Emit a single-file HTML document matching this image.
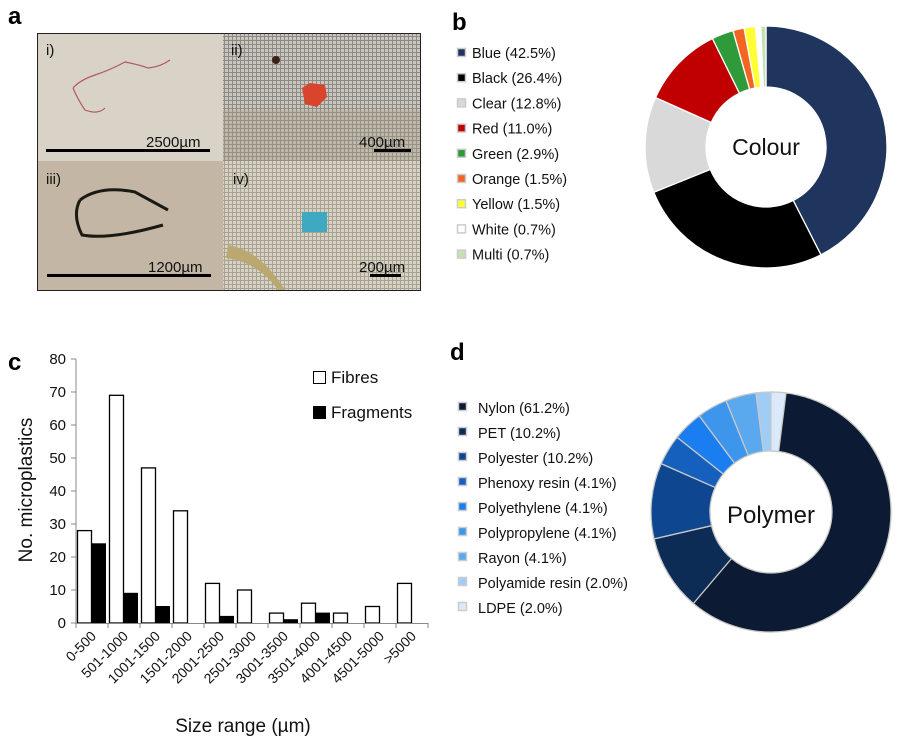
<!DOCTYPE html>
<html><head><meta charset="utf-8"><style>
body{margin:0;background:#fff;width:903px;height:748px;overflow:hidden}
svg text{font-family:"Liberation Sans",sans-serif}
</style></head><body>
<svg id="s" width="903" height="748" xmlns="http://www.w3.org/2000/svg">
<defs>
<pattern id="grid" width="4" height="4" patternUnits="userSpaceOnUse"><rect width="4" height="4" fill="#c9c6c2"/><rect width="1" height="4" fill="#8e8a80"/><rect width="4" height="1" fill="#8e8a80"/></pattern>
<pattern id="grid2" width="4" height="4" patternUnits="userSpaceOnUse"><rect width="4" height="4" fill="#d6d2c6"/><rect width="1" height="4" fill="#a8a290"/><rect width="4" height="1" fill="#a8a290"/></pattern>
</defs>
<g font-weight="bold" font-size="24">
<text x="8" y="24">a</text><text x="452" y="30">b</text><text x="8" y="370">c</text><text x="450" y="360">d</text></g>
<rect x="37" y="33" width="384" height="258" fill="#222"/>
<rect x="38" y="34" width="185" height="127" fill="#d9d2c6"/>
<rect x="223" y="34" width="197" height="127" fill="url(#grid)"/>
<rect x="223" y="110" width="197" height="51" fill="#a89e88" opacity="0.35"/>
<rect x="38" y="161" width="185" height="129" fill="#c4b6a4"/>
<rect x="223" y="161" width="197" height="129" fill="url(#grid2)"/>
<path d="M73 88 Q80 80 95 75 Q110 70 125 62 Q140 65 148 68 Q160 67 170 60" stroke="#b05a60" fill="none" stroke-width="1.2"/>
<path d="M73 88 Q78 100 85 110 Q98 115 105 108" stroke="#b05a60" fill="none" stroke-width="1.2"/>
<path d="M302 88 l8 -5 l15 2 l2 12 l-10 10 l-12 -3z" fill="#d8442c"/>
<circle cx="276" cy="60" r="4" fill="#3a2218"/>
<path d="M80 200 Q100 185 135 192 L168 210 M80 200 Q72 215 82 235 Q110 240 163 225" stroke="#1a1a14" fill="none" stroke-width="3"/>
<rect x="302" y="212" width="25" height="20" fill="#3fa9c2"/>
<path d="M228 245 Q260 250 285 290 L278 290 Q258 262 226 258z" fill="#bba870"/>
<g font-size="15" fill="#111"><text x="46" y="55">i)</text><text x="231" y="55">ii)</text><text x="46" y="184">iii)</text><text x="233" y="184">iv)</text>
<text x="146" y="147">2500µm</text><text x="359" y="147">400µm</text><text x="148" y="272">1200µm</text><text x="359" y="272">200µm</text></g>
<g fill="#000"><rect x="46" y="149" width="164" height="3"/><rect x="374" y="149" width="37" height="3"/><rect x="47" y="274" width="164" height="3"/><rect x="370" y="274" width="31" height="3"/></g>
<g id="bars"></g>
<g stroke="#888" stroke-width="1"><line x1="76" y1="359" x2="76" y2="623"/><line x1="76" y1="623.5" x2="428" y2="623.5"/></g>
<g id="ticks" font-size="15" fill="#111"></g>
<rect x="313.5" y="371.5" width="12" height="12" fill="#fff" stroke="#000"/>
<rect x="313.5" y="406.5" width="12" height="12" fill="#000" stroke="#000"/>
<g font-size="17" fill="#111"><text x="331" y="383">Fibres</text><text x="331" y="418">Fragments</text>
<text transform="translate(32,490) rotate(-90)" text-anchor="middle" font-size="19">No. microplastics</text>
<text x="243" y="732" text-anchor="middle" font-size="19">Size range (µm)</text></g>
<g id="pies"></g>
<g font-size="14.5" fill="#111" id="leg"></g>
<text x="766" y="155" font-size="23" text-anchor="middle" fill="#111">Colour</text>
<text x="771" y="523" font-size="24" text-anchor="middle" fill="#111">Polymer</text>
</svg>
<script>
var NS="http://www.w3.org/2000/svg";
function el(p,t,a,txt){var e=document.createElementNS(NS,t);for(var k in a)e.setAttribute(k,a[k]);if(txt)e.textContent=txt;document.getElementById(p).appendChild(e);return e;}
var fib=[28,69,47,34,12,10,3,6,3,5,12],fr=[24,9,5,0,2,0,1,3,0,0,0];
var labs=["0-500","501-1000","1001-1500","1501-2000","2001-2500","2501-3000","3001-3500","3501-4000","4001-4500","4501-5000",">5000"];
for(var c=0;c<11;c++){var x=77+32*c;
el("bars","rect",{x:x+0.5,y:623-fib[c]*3.3,width:14,height:fib[c]*3.3,fill:"#fff",stroke:"#000","stroke-width":1.3});
if(fr[c])el("bars","rect",{x:x+14.5,y:623-fr[c]*3.3,width:14,height:fr[c]*3.3,fill:"#000",stroke:"#000","stroke-width":1});
el("ticks","line",{x1:76+32*c,y1:623,x2:76+32*c,y2:628,stroke:"#888"});
el("ticks","text",{transform:"translate("+(97+32*c)+",637) rotate(-45)","text-anchor":"end","font-size":"14"},labs[c]);}
el("ticks","line",{x1:428,y1:623,x2:428,y2:628,stroke:"#888"});
for(var v=0;v<=80;v+=10){var y=623-v*3.3;el("ticks","text",{x:66,y:y+5,"text-anchor":"end"},""+v);el("ticks","line",{x1:71,y1:y,x2:76,y2:y,stroke:"#888"});}
function donut(cx,cy,R,r,vals,cols,sep){var a=0;for(var i=0;i<vals.length;i++){var a0=a*2*Math.PI/100-Math.PI/2;a+=vals[i];var a1=a*2*Math.PI/100-Math.PI/2;var lg=(a1-a0)>Math.PI?1:0;
var p="M"+(cx+R*Math.cos(a0))+" "+(cy+R*Math.sin(a0))+"A"+R+" "+R+" 0 "+lg+" 1 "+(cx+R*Math.cos(a1))+" "+(cy+R*Math.sin(a1))+"L"+(cx+r*Math.cos(a1))+" "+(cy+r*Math.sin(a1))+"A"+r+" "+r+" 0 "+lg+" 0 "+(cx+r*Math.cos(a0))+" "+(cy+r*Math.sin(a0))+"Z";
el("pies","path",{d:p,fill:cols[i],stroke:sep,"stroke-width":1.3});}}
var cv=[42.5,26.4,12.8,11.0,2.9,1.5,1.5,0.7,0.7],cc=["#1f355e","#000","#d9d9d9","#c00000","#2e9a3a","#f26522","#ffff33","#fff","#c5e0b4"];
var cn=["Blue (42.5%)","Black (26.4%)","Clear (12.8%)","Red (11.0%)","Green (2.9%)","Orange (1.5%)","Yellow (1.5%)","White (0.7%)","Multi (0.7%)"];
donut(766,147,121,60,cv,cc,"#fff");
var pv=[61.2,10.2,10.2,4.1,4.1,4.1,4.1,2.0,2.0],pc=["#0c1b33","#0c2b55","#0f4690","#1560bd","#1a7ef0","#3e95ec","#5aa8ee","#a0cdf5","#dbeafa"];
var pn=["Nylon (61.2%)","PET (10.2%)","Polyester (10.2%)","Phenoxy resin (4.1%)","Polyethylene (4.1%)","Polypropylene (4.1%)","Rayon (4.1%)","Polyamide resin (2.0%)","LDPE (2.0%)"];
donut(771,512,120,61,pv,pc,"#c8c8c8");
for(var i=0;i<9;i++){var y=53+25.2*i;el("leg","rect",{x:457.5,y:y-4.5,width:8,height:8,fill:cc[i],stroke:"#ccc","stroke-width":1.5});el("leg","text",{x:472,y:y+5},cn[i]);
var y2=408+25*i;el("leg","rect",{x:458.5,y:y2-5.5,width:8,height:8,fill:pc[i],stroke:"#ccc","stroke-width":1.5});el("leg","text",{x:478,y:y2+5},pn[i]);}
</script>
</body></html>
